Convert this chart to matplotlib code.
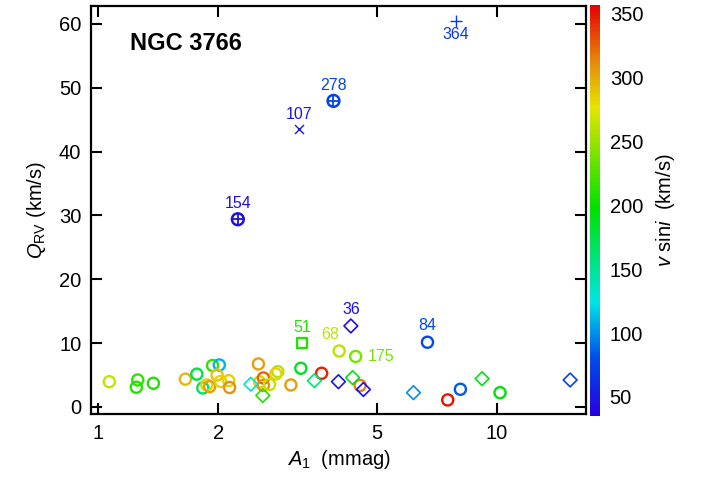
import matplotlib
matplotlib.use("Agg")
import matplotlib.pyplot as plt
import numpy as np
from matplotlib.colors import LinearSegmentedColormap, Normalize
from matplotlib.cm import ScalarMappable
from matplotlib.ticker import NullLocator, FixedLocator, FixedFormatter

plt.rcParams['font.family'] = ['Liberation Sans', 'DejaVu Sans']
plt.rcParams['mathtext.fontset'] = 'custom'
plt.rcParams['mathtext.rm'] = 'Liberation Sans'
plt.rcParams['mathtext.it'] = 'Liberation Sans:italic'
plt.rcParams['mathtext.bf'] = 'Liberation Sans:bold'

# ---- data ----
# open circles
circ_A1 = [1.067, 1.257, 1.247, 1.376, 1.655, 1.768, 1.936, 2.013, 1.83, 1.873,
           1.904, 1.987, 2.028, 2.126, 2.136, 2.522, 2.54, 2.596, 2.596, 2.69,
           2.821, 2.789, 3.042, 3.222, 4.02, 4.42, 3.633, 4.536, 6.69, 7.52,
           8.09, 10.17]
circ_Q = [3.96, 4.23, 3.09, 3.71, 4.36, 5.14, 6.50, 6.58, 2.98, 3.45,
          3.18, 5.01, 4.0, 4.12, 3.05, 6.74, 3.92, 4.54, 3.37, 3.52,
          5.53, 5.17, 3.45, 6.06, 8.77, 7.91, 5.28, 3.37, 10.14, 1.10,
          2.77, 2.24]
circ_vsini = [265, 215, 210, 210, 295, 175, 215, 110, 165, 285,
              305, 290, 285, 285, 310, 305, 285, 325, 310, 265,
              260, 285, 305, 185, 262, 240, 345, 315, 78, 350,
              85, 195]
circ_id = [None] * 24 + ['68', '175', None, None, '84', None, None, None]

# open diamonds
diam_A1 = [2.414, 2.587, 3.484, 4.002, 4.344, 4.623, 4.30, 6.17, 9.17, 15.24]
diam_Q = [3.56, 1.80, 4.12, 3.96, 4.59, 2.74, 12.69, 2.24, 4.43, 4.23]
diam_vsini = [135, 210, 160, 50, 190, 45, 45, 100, 190, 75]
diam_id = [None] * 6 + ['36'] + [None] * 3

# open square
sq_A1 = [3.245]
sq_Q = [10.03]
sq_vsini = [210]
sq_id = ['51']

# circle with plus
cp_A1 = [2.24, 3.89]
cp_Q = [29.4, 47.94]
cp_vsini = [45, 75]
cp_id = ['154', '278']

# x marker
x_A1 = [3.19]
x_Q = [43.5]
x_vsini = [50]
x_id = ['107']

# plus marker
p_A1 = [7.89]
p_Q = [60.5]
p_vsini = [70]
p_id = ['364']

xticks = [1, 2, 5, 10]
yticks = [0, 10, 20, 30, 40, 50, 60]
cbticks = [50, 100, 150, 200, 250, 300, 350]

# ---- colormap ----
vmin, vmax = 35, 357
nodes = [(35, (0.15, 0.0, 0.88)), (80, (0.0, 0.3, 0.92)), (124, (0.0, 0.9, 0.9)),
         (198, (0.0, 0.88, 0.0)), (277, (0.9, 0.9, 0.0)), (312, (0.9, 0.55, 0.05)),
         (357, (0.9, 0.0, 0.0))]
cmap = LinearSegmentedColormap.from_list(
    'vs', [((v - vmin) / (vmax - vmin), c) for v, c in nodes])
norm = Normalize(vmin=vmin, vmax=vmax)

fig = plt.figure(figsize=(7.03, 4.79), dpi=100)
ax = fig.add_axes([91 / 703, 1 - 414 / 479, 495 / 703, 408 / 479])
cax = fig.add_axes([590 / 703, 1 - 416 / 479, 10 / 703, 411 / 479])

ax.scatter(circ_A1, circ_Q, s=8.0 ** 2, marker='o', facecolors='none',
           edgecolors=cmap(norm(circ_vsini)), linewidths=1.7)
ax.scatter(diam_A1, diam_Q, s=7.0 ** 2, marker='D', facecolors='none',
           edgecolors=cmap(norm(diam_vsini)), linewidths=1.2)
ax.scatter(sq_A1, sq_Q, s=6.8 ** 2, marker='s', facecolors='none',
           edgecolors=cmap(norm(sq_vsini)), linewidths=1.7)
ax.scatter(cp_A1, cp_Q, s=8.5 ** 2, marker='o', facecolors='none',
           edgecolors=cmap(norm(cp_vsini)), linewidths=1.8)
ax.scatter(cp_A1, cp_Q, s=8.5 ** 2, marker='+', c=cmap(norm(cp_vsini)),
           linewidths=1.3)
ax.scatter(x_A1, x_Q, s=6.5 ** 2, marker='x', c=cmap(norm(x_vsini)),
           linewidths=1.0)
ax.scatter(p_A1, p_Q, s=8 ** 2, marker='+', c=cmap(norm(p_vsini)),
           linewidths=1.0)

def label(xs, ys, vs, ids, offsets=None):
    for xv, yv, vv, lab in zip(xs, ys, vs, ids):
        if lab is None:
            continue
        off = (0, 15)
        h = 'center'
        if offsets and lab in offsets:
            off, h = offsets[lab]
        ax.annotate(lab, (xv, yv), xytext=off, textcoords='offset pixels',
                    ha=h, va='center', fontsize=11.5, color=cmap(norm(vv)))

label(circ_A1, circ_Q, circ_vsini, circ_id,
      {'68': ((-9, 16), 'center'), '175': ((12, 0), 'left'),
       '84': ((0, 17), 'center')})
label(diam_A1, diam_Q, diam_vsini, diam_id, {'36': ((0, 16), 'center')})
label(sq_A1, sq_Q, sq_vsini, sq_id)
label(cp_A1, cp_Q, cp_vsini, cp_id, {'154': ((0, 16), 'center')})
label(x_A1, x_Q, x_vsini, x_id)
label(p_A1, p_Q, p_vsini, p_id, {'364': ((0, -14), 'center')})

ax.set_xscale('log')
ax.set_xlim(0.96, 16.7)
ax.set_ylim(-1.1, 62.8)
ax.xaxis.set_major_locator(FixedLocator(xticks))
ax.xaxis.set_major_formatter(FixedFormatter([str(t) for t in xticks]))
ax.xaxis.set_minor_locator(NullLocator())
ax.set_yticks(yticks)
ax.tick_params(which='both', direction='in', top=True, right=True,
               length=8, width=1.5, labelsize=14.5, pad=7)
for s in ax.spines.values():
    s.set_linewidth(1.6)

ax.set_xlabel(r'$A_1$  (mmag)', fontsize=14.5, labelpad=4)
ax.set_ylabel(r'$Q_{\rm RV}$ (km/s)', fontsize=14.5, labelpad=8)
ax.text(0.079, 0.909, 'NGC 3766', transform=ax.transAxes, fontsize=17,
        fontweight='bold', ha='left', va='center')

sm = ScalarMappable(norm=norm, cmap=cmap)
cb = fig.colorbar(sm, cax=cax)
cb.outline.set_visible(False)
cb.set_ticks(cbticks)
cax.tick_params(length=0, labelsize=14.5, pad=7)
cb.set_label(r'$v$ sin$i$  (km/s)', fontsize=14.5, labelpad=8)

fig.savefig('out.png', dpi=100)
